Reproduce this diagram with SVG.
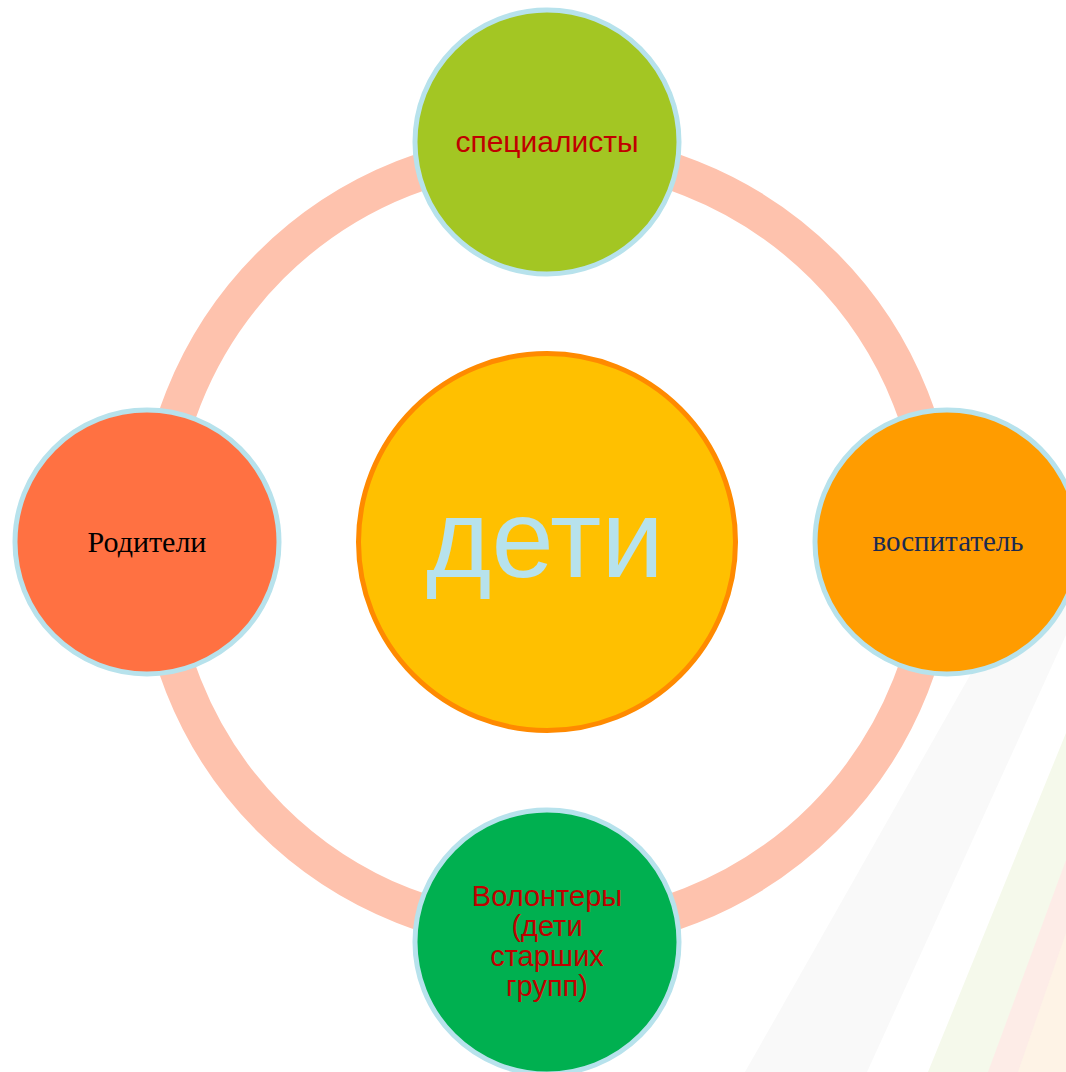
<svg xmlns="http://www.w3.org/2000/svg" width="1066" height="1072" viewBox="0 0 1066 1072">
  <style>
    .node { stroke: #B7E2EC; stroke-width: 5; }
    .sans { font-family: "Liberation Sans", Arial, sans-serif; text-anchor: middle; }
    .serif { font-family: "Liberation Serif", "Times New Roman", serif; text-anchor: middle; }
    .red { fill: #C00000; }
  </style>
  <rect width="1066" height="1072" fill="#FFFFFF"/>
  <g id="background">
    <polygon points="745,1072 867,1072 1066,635 1066,506" fill="#F9F9F9"/>
    <polygon points="928,1072 1066,733 1066,1072" fill="#F5F9EB"/>
    <polygon points="988,1072 1066,860 1066,1072" fill="#FDECE7"/>
    <polygon points="1018,1072 1066,933 1066,1072" fill="#FEF3E6"/>
  </g>
  <g id="connectors">
    <circle cx="547" cy="542" r="391" fill="none" stroke="#FEC2AD" stroke-width="37"/>
  </g>
  <g id="node-center">
    <circle cx="547" cy="542" r="188.5" fill="#FFC000" stroke="#FF8A00" stroke-width="5"/>
    <text x="545" y="577" class="sans" font-size="112" fill="#B7E2EC">дети</text>
  </g>
  <g id="node-top">
    <circle class="node" cx="547" cy="142" r="132" fill="#A3C623"/>
    <text x="547" y="152" class="sans red" font-size="30">специалисты</text>
  </g>
  <g id="node-left">
    <circle class="node" cx="147" cy="542" r="132" fill="#FF7142"/>
    <text x="147" y="552" class="serif" font-size="30" fill="#000000">Родители</text>
  </g>
  <g id="node-right">
    <circle class="node" cx="947" cy="542" r="132" fill="#FF9C00"/>
    <text x="948" y="551" class="serif" font-size="29" fill="#1B2A52">воспитатель</text>
  </g>
  <g id="node-bottom">
    <circle class="node" cx="547" cy="942" r="132" fill="#00B050"/>
    <text class="sans red" font-size="29"><tspan x="547" y="906">Волонтеры</tspan><tspan x="547" y="936">(дети</tspan><tspan x="547" y="966">старших</tspan><tspan x="547" y="996">групп)</tspan></text>
  </g>
</svg>
